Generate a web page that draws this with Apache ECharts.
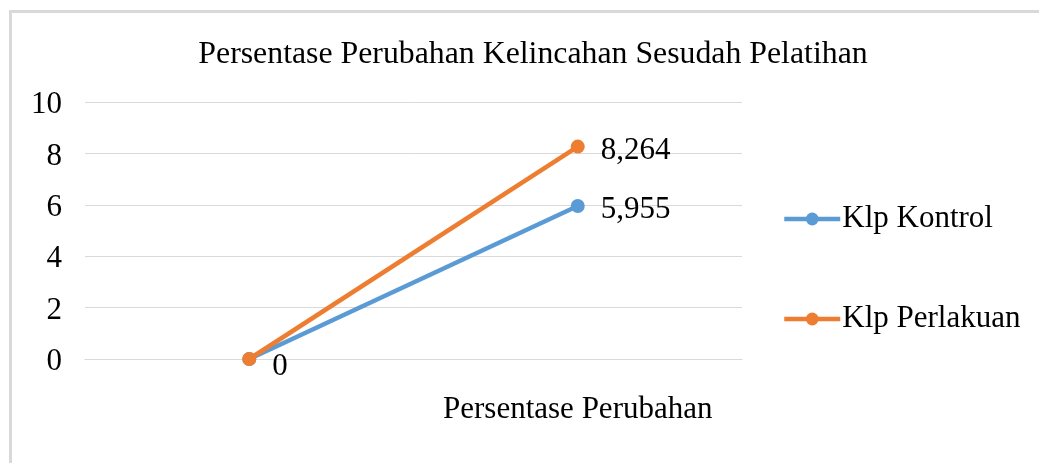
<!DOCTYPE html>
<html>
<head>
<meta charset="utf-8">
<script src="https://cdn.jsdelivr.net/npm/echarts@6/dist/echarts.min.js"></script>
<style>
html,body{margin:0;padding:0;background:#fff;}
#chart{width:1039px;height:463px;}
</style>
</head>
<body>
<div id="chart"></div>
<script>
const titleText = 'Persentase Perubahan Kelincahan Sesudah Pelatihan';
const categories = ['', 'Persentase Perubahan'];
const seriesNames = ['Klp Kontrol', 'Klp Perlakuan'];
const kontrolValues = [0, 5.955];
const perlakuanValues = [0, 8.264];
const yTicks = [0, 2, 4, 6, 8, 10];

const FONT = '"Liberation Serif", "Times New Roman", serif';
const fmt = v => String(v).replace('.', ',');
const labelShift = p => ({ dy: p.dataIndex === 0 ? 8 : 4 });

const chart = echarts.init(document.getElementById('chart'));
chart.setOption({
  animation: false,
  backgroundColor: '#fff',
  graphic: [{
    type: 'rect',
    shape: { x: 10.5, y: 11.5, width: 1100, height: 600 },
    style: { fill: 'none', stroke: '#d9d9d9', lineWidth: 3 },
    silent: true
  }],
  title: {
    text: titleText,
    left: 528,
    top: 34,
    textAlign: 'center',
    textStyle: { fontFamily: FONT, fontSize: 31.8, fontWeight: 'normal', color: '#000' }
  },
  legend: {
    orient: 'vertical',
    left: 782,
    top: 203,
    padding: 0,
    itemWidth: 56,
    itemHeight: 16,
    itemGap: 68,
    lineStyle: { width: 4.5 },
    data: seriesNames,
    textStyle: { fontFamily: FONT, fontSize: 31, color: '#000', lineHeight: 32, padding: [0, 0, 0, -3] }
  },
  grid: { left: 85, right: 297, top: 102, bottom: 104, containLabel: false },
  xAxis: {
    type: 'category',
    data: categories,
    boundaryGap: true,
    axisLine: { show: true, lineStyle: { color: '#d9d9d9', width: 1 } },
    axisTick: { show: false },
    axisLabel: { margin: 35, fontFamily: FONT, fontSize: 31, color: '#000', interval: 0 }
  },
  yAxis: {
    type: 'value',
    min: yTicks[0],
    max: yTicks[yTicks.length - 1],
    interval: yTicks[1] - yTicks[0],
    axisLine: { show: false },
    axisTick: { show: false },
    splitLine: { lineStyle: { color: '#d9d9d9', width: 1 } },
    axisLabel: {
      margin: 23,
      formatter: '{a|{value}}',
      rich: { a: { fontFamily: FONT, fontSize: 31, color: '#000', padding: [6, 0, 0, 0] } }
    }
  },
  series: [
    {
      name: seriesNames[0],
      type: 'line',
      data: kontrolValues,
      symbol: 'circle',
      symbolSize: 14,
      color: '#5B9BD5',
      lineStyle: { width: 4.5, color: '#5B9BD5' },
      label: {
        show: true,
        position: 'right',
        distance: 16,
        fontFamily: FONT, fontSize: 31, color: '#000',
        formatter: p => fmt(p.value)
      },
      labelLayout: labelShift,
      z: 2
    },
    {
      name: seriesNames[1],
      type: 'line',
      data: perlakuanValues,
      symbol: 'circle',
      symbolSize: 14,
      color: '#ED7D31',
      lineStyle: { width: 4.5, color: '#ED7D31' },
      label: {
        show: true,
        position: 'right',
        distance: 16,
        fontFamily: FONT, fontSize: 31, color: '#000',
        formatter: p => p.value === 0 ? '' : fmt(p.value)
      },
      labelLayout: labelShift,
      z: 3
    }
  ]
});
</script>
</body>
</html>
